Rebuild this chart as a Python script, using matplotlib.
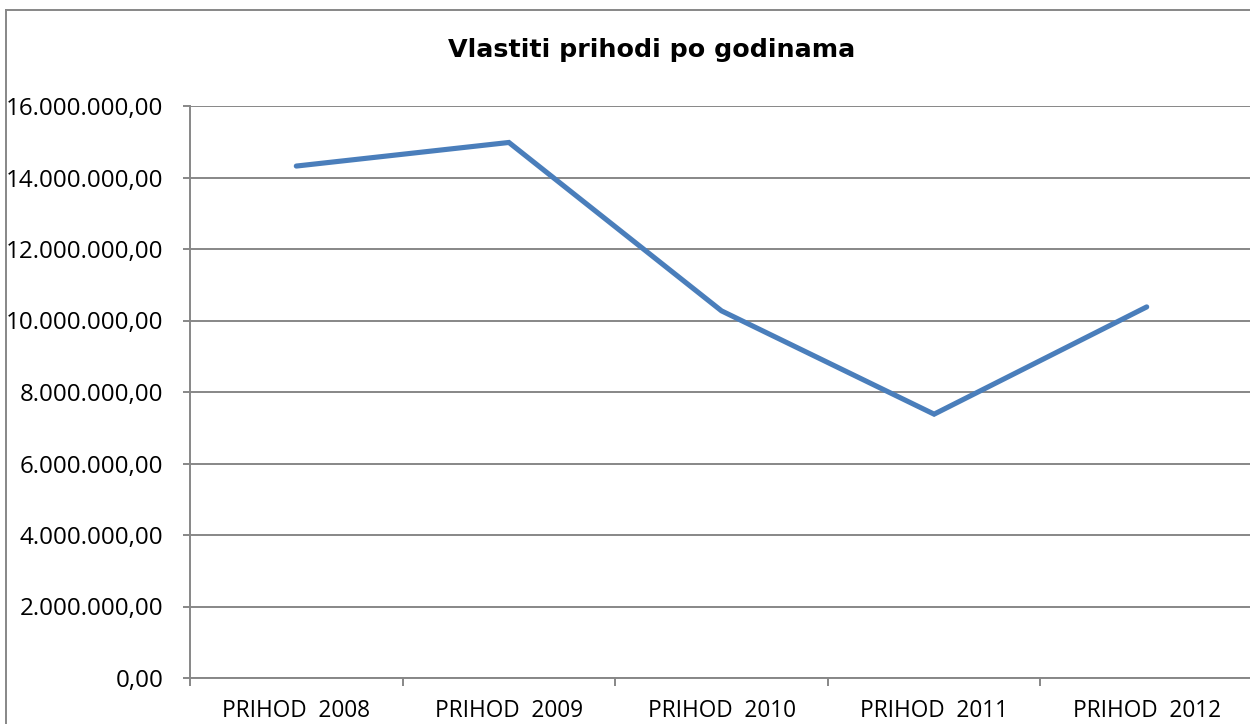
import numpy as np
import matplotlib.pyplot as plt
from matplotlib.lines import Line2D
from matplotlib.ticker import FuncFormatter

categories = ["PRIHOD  2008", "PRIHOD  2009", "PRIHOD  2010", "PRIHOD  2011", "PRIHOD  2012"]
prihodi = [14320000, 14980000, 10270000, 7380000, 10380000]
y_ticks = [0, 2000000, 4000000, 6000000, 8000000, 10000000, 12000000, 14000000, 16000000]

W, H = 1250, 724
grid_col = "#878787"


def hr_format(v, pos=None):
    s = f"{v:,.2f}"
    return s.replace(",", "X").replace(".", ",").replace("X", ".")


fig = plt.figure(figsize=(W / 100, H / 100), dpi=100)
ax = fig.add_axes([190 / W, 1 - 678 / H, 1063 / W, 572 / H])

x = np.arange(len(categories))
ax.plot(x, prihodi, color="#4A7EBB", linewidth=3.7, solid_capstyle="round",
        solid_joinstyle="miter", zorder=3)

ax.set_xlim(-0.5, len(categories) - 0.5)
ax.set_ylim(0, 16000000)
ax.set_yticks(y_ticks)
ax.yaxis.set_major_formatter(FuncFormatter(hr_format))
ax.grid(axis="y", color=grid_col, linewidth=1.4)
ax.set_axisbelow(True)

ax.set_xticks(x)
ax.set_xticklabels(categories)
ax.set_xticks(np.arange(-0.5, len(categories)), minor=True)
ax.tick_params(axis="x", which="major", length=0, pad=15)
ax.tick_params(axis="x", which="minor", length=6, width=1.4, color=grid_col)
ax.tick_params(axis="y", length=5, width=1.4, color=grid_col, pad=14)

for lbl in ax.get_xticklabels():
    lbl.set_fontfamily("Open Sans")
    lbl.set_fontsize(16.3)
for lbl in ax.get_yticklabels():
    lbl.set_fontfamily("Open Sans")
    lbl.set_fontsize(17.4)

for side in ["top", "right"]:
    ax.spines[side].set_visible(False)
for side in ["left", "bottom"]:
    ax.spines[side].set_color(grid_col)
    ax.spines[side].set_linewidth(1.4)

fig.text(652 / W, 1 - 50 / H, "Vlastiti prihodi po godinama", ha="center", va="center",
         fontsize=18.3, fontweight="heavy", family="DejaVu Sans")

# outer chart border
fig.add_artist(Line2D([6 / W, 6 / W], [0, 1 - 10 / H], color=grid_col, linewidth=1.4))
fig.add_artist(Line2D([6 / W, 1], [1 - 10 / H, 1 - 10 / H], color=grid_col, linewidth=1.4))

fig.savefig("out.png", dpi=100)
